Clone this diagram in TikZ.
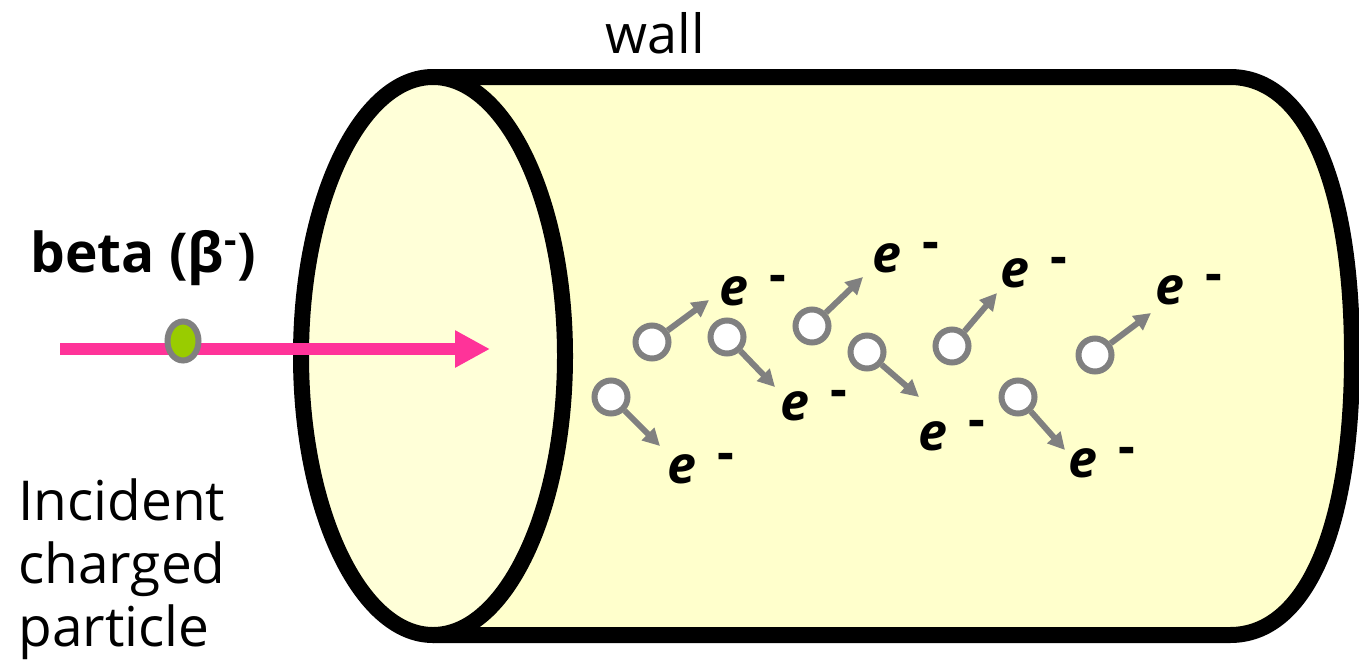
\documentclass[tikz,border=0pt]{standalone}
\usepackage{fontspec}
\setmainfont{Open Sans}
\usetikzlibrary{arrows.meta,shapes.geometric}
\definecolor{bodyfill}{HTML}{FFFFCC}
\definecolor{facefill}{HTML}{FFFFD8}
\definecolor{beamcol}{HTML}{FF3399}
\definecolor{pgreen}{HTML}{99CC00}
\definecolor{egray}{HTML}{808080}
\newcommand{\elab}{\textbf{\textit{e}}\hspace{0.4em}\raisebox{0.25em}{\textbf{-}}}
\begin{document}
\begin{tikzpicture}[x=0.5pt,y=-0.5pt,
  wallline/.style={line width=8pt, line join=round},
  elec/.style={circle, draw=egray, fill=white, line width=3pt, minimum size=16.5pt, inner sep=0pt},
  earrow/.style={draw=egray, line width=3pt, -{Triangle[length=8.5pt,width=8.5pt]}},
  elabel/.style={anchor=base west, inner sep=0pt, font=\fontsize{26pt}{30pt}\selectfont},
  txt/.style={inner sep=0pt, font=\fontsize{27pt}{31.5pt}\selectfont}
]
\useasboundingbox (0,0) rectangle (1359,659);
% cylinder body
\fill[bodyfill] (433,77) -- (1230,77) .. controls (1306,77) and (1352,183) .. (1352,356)
  .. controls (1352,529) and (1306,635) .. (1230,635) -- (433,635) -- cycle;
\draw[wallline] (433,77) -- (1230,77) .. controls (1306,77) and (1352,183) .. (1352,356)
  .. controls (1352,529) and (1306,635) .. (1230,635) -- (433,635);
% front face
\draw[wallline, fill=facefill] (433,356) ellipse [x radius=66pt, y radius=139.5pt];
% labels
\node[txt, anchor=base] (wall) at (655,53) {wall};
\node[txt, anchor=base west, font=\bfseries\fontsize{27.5pt}{30pt}\selectfont] (beta) at (30,272) {beta (β\textsuperscript{-})};
\node[txt, anchor=north west, align=left, font=\fontsize{27.5pt}{31.5pt}\selectfont] (incident) at (18,478) {Incident\\charged\\particle};
% incident beam
\coordinate (bs) at (60,349);
\coordinate (be) at (490,349);
\draw[draw=beamcol, line width=6pt, -{Triangle[length=17.5pt,width=17.5pt]}] (bs) -- (be);
\node[ellipse, draw=egray, fill=pgreen, line width=3pt, minimum width=15.5pt, minimum height=19.5pt, inner sep=0pt] (particle) at (183,341) {};
% electrons
\node[elec] (c1) at (652,342) {};  \coordinate (t1) at (709,300);
\node[elec] (c2) at (727,337) {};  \coordinate (t2) at (775,387);
\node[elec] (c3) at (611,397) {};  \coordinate (t3) at (660,446);
\node[elec] (c4) at (812,326) {};  \coordinate (t4) at (863,277);
\node[elec] (c5) at (867,352) {};  \coordinate (t5) at (919,397);
\node[elec] (c6) at (952,346) {};  \coordinate (t6) at (997,293);
\node[elec] (c7) at (1018,397) {}; \coordinate (t7) at (1065,450);
\node[elec] (c8) at (1095,355) {}; \coordinate (t8) at (1151,313);
\foreach \i in {1,...,8} { \draw[earrow] (c\i) -- (t\i); }
\node[elabel] (e1) at (719,305) {\elab};
\node[elabel] (e2) at (780,420) {\elab};
\node[elabel] (e3) at (667,483) {\elab};
\node[elabel] (e4) at (872,272) {\elab};
\node[elabel] (e5) at (918,450) {\elab};
\node[elabel] (e6) at (1000,287) {\elab};
\node[elabel] (e7) at (1068,477) {\elab};
\node[elabel] (e8) at (1155,304) {\elab};
\end{tikzpicture}
\end{document}
